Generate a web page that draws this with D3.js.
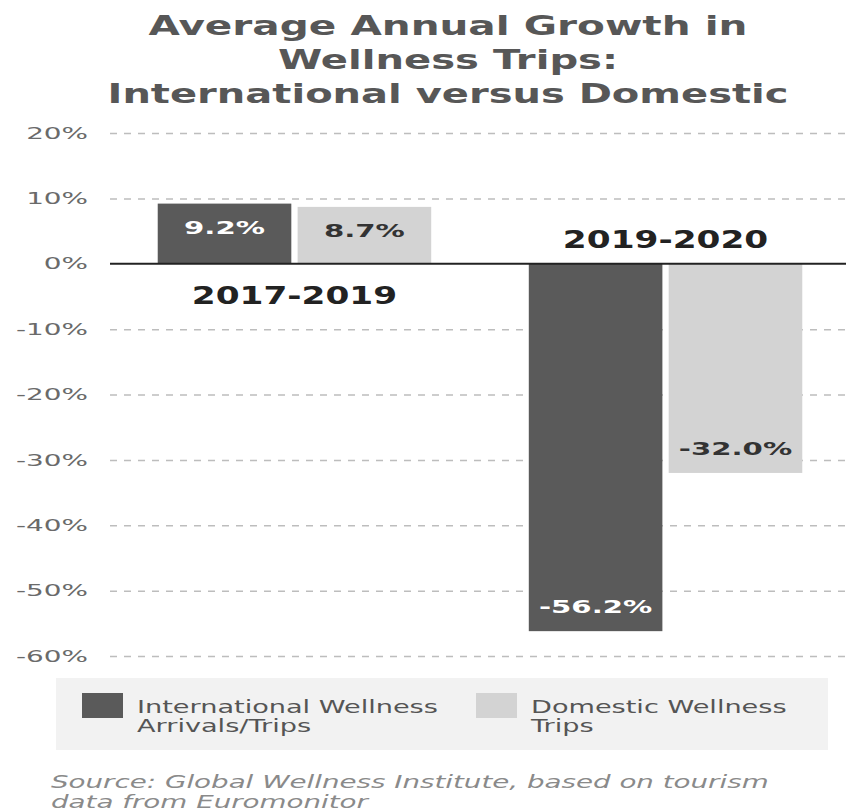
<!DOCTYPE html>
<html>
<head>
<meta charset="utf-8">
<script src="https://cdn.jsdelivr.net/npm/d3@7"></script>
<style>
  html, body { margin: 0; padding: 0; background: #fff; }
  svg { display: block; }
  text { font-family: "DejaVu Sans", sans-serif; }
</style>
</head>
<body>
<svg id="chart" width="846" height="811"></svg>
<script>
// ---- data ----
const titleLines = ["Average Annual Growth in", "Wellness Trips:", "International versus Domestic"];
const periods = ["2017-2019", "2019-2020"];
const seriesNames = ["International Wellness Arrivals/Trips", "Domestic Wellness Trips"];
const legendLines = [["International Wellness", "Arrivals/Trips"], ["Domestic Wellness", "Trips"]];
const internationalGrowth = [9.2, -56.2];
const domesticGrowth = [8.7, -32.0];
const yTicks = [20, 10, 0, -10, -20, -30, -40, -50, -60];
const sourceLines = ["Source: Global Wellness Institute, based on tourism", "data from Euromonitor"];

const colors = ["#5a5a5a", "#d3d3d3"];
const labelColors = ["#ffffff", "#333333"];

const rows = periods.map((p, i) => ({
  period: p,
  values: [internationalGrowth[i], domesticGrowth[i]]
}));

const svg = d3.select("#chart");
const W = 846;

// widen glyphs horizontally to the wide geometric look of the typeface
function stretch(sel, k) {
  sel.each(function () {
    const w = this.getComputedTextLength();
    d3.select(this).attr("textLength", w * k).attr("lengthAdjust", "spacingAndGlyphs");
  });
}
function fitWidth(sel, w) {
  sel.attr("textLength", w).attr("lengthAdjust", "spacingAndGlyphs");
}

// ---- scales ----
const y = d3.scaleLinear().domain([-60, 20]).range([656, 133]);
const x0 = d3.scaleBand().domain(periods).range([108, 852]).paddingInner(0.263).paddingOuter(0.134);
const x1 = d3.scaleBand().domain([0, 1]).range([0, x0.bandwidth()]).paddingInner(0.045);

const gridLeft = 110;

// ---- title ----
const titleWidths = [599, 340, 681];
svg.append("g").selectAll("text").data(titleLines).join("text")
  .attr("x", 448)
  .attr("y", (d, i) => 35 + i * 34)
  .attr("text-anchor", "middle")
  .attr("font-size", 27)
  .attr("font-weight", "bold")
  .attr("fill", "#575757")
  .text(d => d)
  .each(function (d, i) { fitWidth(d3.select(this), titleWidths[i]); });

// ---- y axis with dashed grid ----
const yAxis = d3.axisLeft(y)
  .tickValues(yTicks)
  .tickFormat(d => d + "%")
  .tickSize(-(W - gridLeft))
  .tickPadding(22);

const axisG = svg.append("g")
  .attr("transform", `translate(${gridLeft},0)`)
  .call(yAxis);
axisG.select(".domain").remove();
axisG.selectAll(".tick line")
  .attr("stroke", "#bdbdbd")
  .attr("stroke-width", 1.5)
  .attr("stroke-dasharray", "7,7")
  .attr("opacity", d => d === 0 ? 0 : 1);
const tickText = axisG.selectAll(".tick text")
  .attr("font-family", "DejaVu Sans, sans-serif")
  .attr("font-size", 16)
  .attr("fill", "#6a6a6a");
stretch(tickText, 1.74);

// ---- bars ----
const groups = svg.append("g").selectAll("g").data(rows).join("g")
  .attr("transform", d => `translate(${x0(d.period)},0)`);

groups.selectAll("rect").data(d => d.values).join("rect")
  .attr("x", (d, i) => x1(i))
  .attr("width", x1.bandwidth())
  .attr("y", d => y(Math.max(0, d)))
  .attr("height", d => Math.abs(y(d) - y(0)))
  .attr("fill", (d, i) => colors[i]);

// value labels inside the bar ends
const valueText = groups.selectAll("text.value").data(d => d.values).join("text")
  .attr("class", "value")
  .attr("x", (d, i) => x1(i) + x1.bandwidth() / 2)
  .attr("y", d => d >= 0 ? y(d) + 24 : y(d) - 24)
  .attr("dy", "0.35em")
  .attr("text-anchor", "middle")
  .attr("font-size", 18)
  .attr("font-weight", "bold")
  .attr("fill", (d, i) => labelColors[i])
  .text(d => d.toFixed(1) + "%");
stretch(valueText, 1.62);

// zero baseline
svg.append("line")
  .attr("x1", gridLeft).attr("x2", W)
  .attr("y1", y(0)).attr("y2", y(0))
  .attr("stroke", "#222222")
  .attr("stroke-width", 2);

// period labels: below the axis for gains, above it for losses
const periodText = svg.append("g").selectAll("text").data(rows).join("text")
  .attr("x", d => x0(d.period) + x0.bandwidth() / 2)
  .attr("y", d => d.values[0] >= 0 ? y(0) + 32 : y(0) - 24)
  .attr("dy", "0.35em")
  .attr("text-anchor", "middle")
  .attr("font-size", 24)
  .attr("font-weight", "bold")
  .attr("fill", "#222222")
  .text(d => d.period);
stretch(periodText, 1.43);

// ---- legend ----
const legend = svg.append("g");
legend.append("rect")
  .attr("x", 56).attr("y", 678)
  .attr("width", 772).attr("height", 72)
  .attr("fill", "#f2f2f2");

const legendItems = legend.selectAll("g.item").data(seriesNames).join("g")
  .attr("class", "item")
  .attr("transform", (d, i) => `translate(${i === 0 ? 82 : 476},693)`);
legendItems.append("rect")
  .attr("width", 41).attr("height", 25)
  .attr("fill", (d, i) => colors[i]);
const legendText = legendItems.selectAll("text").data((d, i) => legendLines[i]).join("text")
  .attr("x", 55)
  .attr("y", (d, j) => 20 + j * 19)
  .attr("font-size", 17.5)
  .attr("fill", "#555555")
  .text(d => d);
stretch(legendText, 1.55);

// ---- source note ----
const sourceText = svg.append("g").selectAll("text").data(sourceLines).join("text")
  .attr("x", 51)
  .attr("y", (d, i) => 788 + i * 20)
  .attr("font-size", 17)
  .attr("font-style", "italic")
  .attr("fill", "#8a8a8a")
  .text(d => d);
stretch(sourceText, 1.63);
</script>
</body>
</html>
